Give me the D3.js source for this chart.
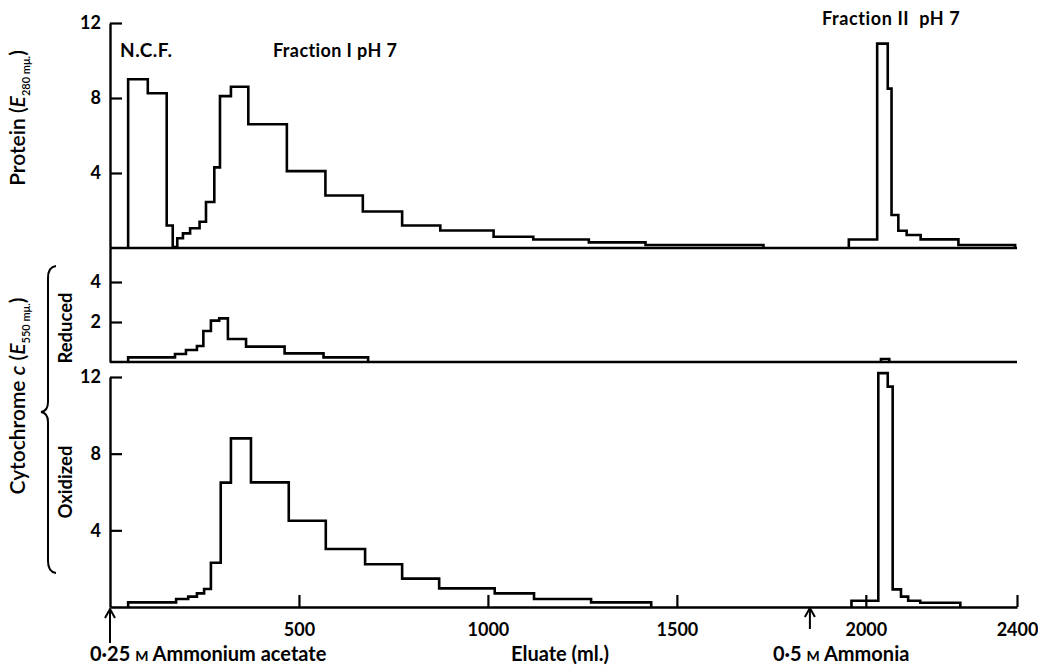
<!DOCTYPE html>
<html>
<head>
<meta charset="utf-8">
<script src="https://cdn.jsdelivr.net/npm/d3@7"></script>
<style>
  body { margin: 0; background: #fff; }
  text { font-family: Lato, "Open Sans", sans-serif; fill: #000; }
</style>
</head>
<body>
<div id="chart"></div>
<script>
// fraction boundaries (ml of eluate) and readings for each step
var proteinEdges = [48, 100, 150, 166, 178, 193, 212, 237, 254, 276, 291, 320, 366, 468, 570, 669, 773, 874, 1015, 1120, 1267, 1417, 1729];
var proteinValues = [9.0, 8.25, 1.2, 0.05, 0.52, 0.78, 1.05, 1.4, 2.45, 4.3, 8.1, 8.6, 6.6, 4.1, 2.8, 1.95, 1.2, 0.93, 0.6, 0.45, 0.3, 0.16];
var protein2Edges = [1955, 2030, 2058, 2068, 2086, 2108, 2145, 2245, 2395];
var protein2Values = [0.45, 10.9, 8.5, 1.76, 0.92, 0.69, 0.46, 0.16];

var reducedEdges = [48, 172, 201, 230, 247, 267, 289, 312, 360, 462, 565, 683];
var reducedValues = [0.23, 0.4, 0.6, 0.8, 1.55, 2.07, 2.18, 1.15, 0.77, 0.43, 0.23];
var reduced2Edges = [2040, 2062];
var reduced2Values = [0.15];

var oxidizedEdges = [48, 175, 207, 230, 249, 267, 293, 320, 373, 473, 571, 675, 773, 871, 1018, 1122, 1273, 1432];
var oxidizedValues = [0.24, 0.42, 0.54, 0.71, 0.94, 2.31, 6.49, 8.8, 6.5, 4.5, 3.03, 2.23, 1.48, 0.97, 0.71, 0.42, 0.24];
var oxidized2Edges = [1962, 2033, 2058, 2071, 2093, 2112, 2144, 2250];
var oxidized2Values = [0.33, 12.2, 11.5, 0.92, 0.54, 0.33, 0.22];

var xTicks = [500, 1000, 1500, 2000, 2400];
var proteinTicks = [4, 8, 12];
var reducedTicks = [2, 4];
var oxidizedTicks = [4, 8, 12];
var ammoniaAt = 1852;

var width = 1038, height = 665;

var svg = d3.select('#chart')
  .append('svg')
  .attr('width', width)
  .attr('height', height);

var x = d3.scaleLinear().domain([0, 2400]).range([110, 1017]);
var yProt = d3.scaleLinear().domain([0, 12]).range([248, 23]);
var yRed = d3.scaleLinear().domain([0, 5.7]).range([362, 248]);
var yOx = d3.scaleLinear().domain([0, 12]).range([607, 377]);

function stepPoints(edges, values) {
  var pts = [[edges[0], 0]];
  values.forEach((v, i) => pts.push([edges[i], v]));
  pts.push([edges[edges.length - 1], 0]);
  return pts;
}

function drawSteps(edges, values, y) {
  var line = d3.line()
    .x(d => x(d[0]))
    .y(d => y(d[1]))
    .curve(d3.curveStepAfter);
  svg.append('path')
    .attr('d', line(stepPoints(edges, values)))
    .attr('fill', 'none')
    .attr('stroke', '#000')
    .attr('stroke-width', 2.6)
    .attr('stroke-linejoin', 'miter');
}

// panel baselines
[yProt, yRed].forEach(y => {
  svg.append('line')
    .attr('x1', x(0)).attr('x2', x(2400))
    .attr('y1', y(0)).attr('y2', y(0))
    .attr('stroke', '#000').attr('stroke-width', 2.4);
});

function styleAxis(g) {
  g.attr('font-family', null).attr('font-size', null);
  g.select('.domain').attr('stroke-width', 2.4);
  g.selectAll('.tick line').attr('stroke-width', 2.2);
  g.selectAll('.tick text')
    .style('font-size', '18px')
    .style('font-weight', 'bold');
}

var fmt = d3.format('d');

// left axes
svg.append('g')
  .attr('transform', `translate(${x(0)},0)`)
  .call(d3.axisLeft(yProt).tickValues(proteinTicks).tickFormat(fmt).tickSizeInner(-12).tickSizeOuter(0).tickPadding(9))
  .call(styleAxis);
svg.append('g')
  .attr('transform', `translate(${x(0)},0)`)
  .call(d3.axisLeft(yRed).tickValues(reducedTicks).tickFormat(fmt).tickSizeInner(-12).tickSizeOuter(0).tickPadding(9))
  .call(styleAxis);
svg.append('g')
  .attr('transform', `translate(${x(0)},0)`)
  .call(d3.axisLeft(yOx).tickValues(oxidizedTicks).tickFormat(fmt).tickSizeInner(-12).tickSizeOuter(0).tickPadding(9))
  .call(styleAxis);

// bottom axis
svg.append('g')
  .attr('transform', `translate(0,${yOx(0)})`)
  .call(d3.axisBottom(x).tickValues(xTicks).tickFormat(fmt).tickSizeInner(-12).tickSizeOuter(0).tickPadding(16))
  .call(styleAxis);

// step traces
drawSteps(proteinEdges, proteinValues, yProt);
drawSteps(protein2Edges, protein2Values, yProt);
drawSteps(reducedEdges, reducedValues, yRed);
drawSteps(reduced2Edges, reduced2Values, yRed);
drawSteps(oxidizedEdges, oxidizedValues, yOx);
drawSteps(oxidized2Edges, oxidized2Values, yOx);

// peak labels
svg.append('text').attr('x', 120).attr('y', 57).style('font-size', '19px').style('font-weight', 'bold')
  .style('letter-spacing', '0.5px').text('N.C.F.');
svg.append('text').attr('x', 273).attr('y', 57).style('font-size', '18px').style('font-weight', 'bold')
  .style('letter-spacing', '0.4px').text('Fraction I pH 7');
svg.append('text').attr('x', 822).attr('y', 25).style('font-size', '18px').style('font-weight', 'bold')
  .style('letter-spacing', '0.6px').attr('xml:space', 'preserve').text('Fraction II  pH 7');

// y labels
var protLabel = svg.append('text')
  .attr('transform', 'translate(25,118) rotate(-90)')
  .attr('text-anchor', 'middle')
  .style('font-size', '21px').style('font-weight', '600');
protLabel.append('tspan').text('Protein (');
protLabel.append('tspan').style('font-style', 'italic').text('E');
protLabel.append('tspan').attr('dy', 5).style('font-size', '11px').text('280 mμ.');
protLabel.append('tspan').attr('dy', -5).text(')');

var cytLabel = svg.append('text')
  .attr('transform', 'translate(25,396) rotate(-90)')
  .attr('text-anchor', 'middle')
  .style('font-size', '21px').style('font-weight', '600');
cytLabel.append('tspan').text('Cytochrome ');
cytLabel.append('tspan').style('font-style', 'italic').text('c');
cytLabel.append('tspan').text(' (');
cytLabel.append('tspan').style('font-style', 'italic').text('E');
cytLabel.append('tspan').attr('dy', 5).style('font-size', '11px').text('550 mμ.');
cytLabel.append('tspan').attr('dy', -5).text(')');

svg.append('text')
  .attr('transform', 'translate(72,328) rotate(-90)')
  .attr('text-anchor', 'middle')
  .style('font-size', '18.5px').style('font-weight', 'bold')
  .text('Reduced');
svg.append('text')
  .attr('transform', 'translate(72,482) rotate(-90)')
  .attr('text-anchor', 'middle')
  .style('font-size', '18.5px').style('font-weight', 'bold')
  .text('Oxidized');

// brace
svg.append('path')
  .attr('d', 'M56,266 Q48,267 48,278 L48,402 Q48,411 41,412 Q48,413 48,422 L48,561 Q48,572 56,573')
  .attr('fill', 'none').attr('stroke', '#000').attr('stroke-width', 2);

// arrows + eluent labels
function arrow(v, y1, y2) {
  var ax = x(v);
  svg.append('line').attr('x1', ax).attr('x2', ax).attr('y1', y1).attr('y2', y2)
    .attr('stroke', '#000').attr('stroke-width', 2);
  svg.append('path').attr('d', `M${ax - 5},${y1 + 9} L${ax},${y1} L${ax + 5},${y1 + 9}`)
    .attr('fill', 'none').attr('stroke', '#000').attr('stroke-width', 2);
}
arrow(0, 609, 643);
arrow(ammoniaAt, 608, 629);

var lab1 = svg.append('text').attr('x', 90).attr('y', 661).style('font-size', '20px').style('font-weight', 'bold');
lab1.append('tspan').text('0·25 ');
lab1.append('tspan').style('font-size', '14px').text('M');
lab1.append('tspan').text(' Ammonium acetate');

svg.append('text').attr('x', 560).attr('y', 661).attr('text-anchor', 'middle')
  .style('font-size', '20px').style('font-weight', 'bold').text('Eluate (ml.)');

var lab2 = svg.append('text').attr('x', 773).attr('y', 661).style('font-size', '20px').style('font-weight', 'bold');
lab2.append('tspan').text('0·5 ');
lab2.append('tspan').style('font-size', '14px').text('M');
lab2.append('tspan').text(' Ammonia');
</script>
</body>
</html>
